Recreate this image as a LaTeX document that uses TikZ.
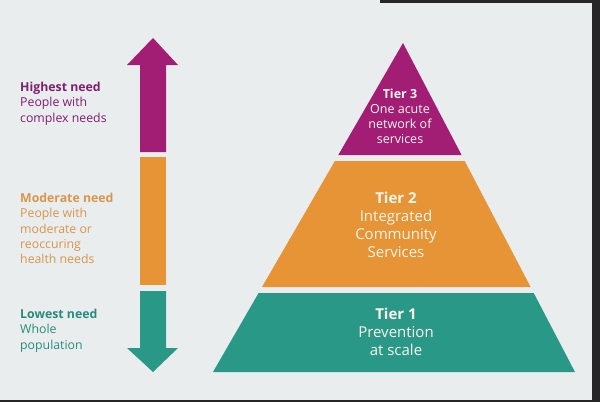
\documentclass[tikz,border=0pt]{standalone}
\usepackage{fontspec}
\setmainfont{Open Sans}
\usetikzlibrary{positioning}
\definecolor{tierpurple}{RGB}{162,30,116}
\definecolor{tierorange}{RGB}{231,148,54}
\definecolor{tierteal}{RGB}{42,152,134}
\definecolor{screenbg}{RGB}{234,237,238}
\definecolor{screenedge}{RGB}{38,38,40}
\definecolor{purpletext}{RGB}{128,30,112}
\definecolor{orangetext}{RGB}{214,150,76}
\definecolor{tealtext}{RGB}{38,140,124}
\definecolor{tierwhite}{RGB}{252,245,236}

\begin{document}
\begin{tikzpicture}[x=1pt, y=-1pt,
    needtext/.style={anchor=north west, align=left, inner sep=0pt,
        font=\fontsize{12.3}{15.3}\selectfont},
    tiertext/.style={align=center, inner sep=0pt, text=tierwhite}]
    \useasboundingbox (0,0) rectangle (600,402);

    % Screen background and frame
    \fill[screenbg] (0,0) rectangle (600,402);
    \fill[screenedge] (592,0) rectangle (600,402);
    \fill[screenedge] (380,0) rectangle (600,3);
    \fill[screenedge] (0,400) rectangle (600,402);

    % Need arrow (three segments)
    \fill[tierpurple] (153,38) -- (178,65) -- (166,65) -- (166,152)
        -- (140,152) -- (140,65) -- (127,65) -- cycle;
    \fill[tierorange] (140,157) rectangle (166,285);
    \fill[tierteal] (140,291) -- (166,291) -- (166,348) -- (178,348)
        -- (153,372) -- (127,348) -- (140,348) -- cycle;

    % Pyramid tiers
    \fill[tierpurple] (403,43) -- (461.6,155) -- (338.3,155) -- cycle;
    \fill[tierorange] (334.9,161) -- (464.7,161) -- (530.6,287) -- (262,287) -- cycle;
    \fill[tierteal] (258.6,293) -- (533.7,293) -- (575,372) -- (213,372) -- cycle;

    % Need labels
    \node[needtext, text=purpletext] (highest) at (20,82)
        {\textbf{Highest need}\\People with\\complex needs};
    \node[needtext, text=orangetext] (moderate) at (20,193)
        {\textbf{Moderate need}\\People with\\moderate or\\reoccuring\\health needs};
    \node[needtext, text=tealtext] (lowest) at (20,309)
        {\textbf{Lowest need}\\Whole\\population};

    % Tier labels
    \node[tiertext, font=\fontsize{12.5}{15}\selectfont] (tier3) at (400,116)
        {\textbf{Tier 3}\\One acute\\network of\\services};
    \node[tiertext, font=\fontsize{15}{18}\selectfont] (tier2) at (396,225)
        {\textbf{Tier 2}\\Integrated\\Community\\Services};
    \node[tiertext, font=\fontsize{15}{18}\selectfont] (tier1) at (396,332)
        {\textbf{Tier 1}\\Prevention\\at scale};
\end{tikzpicture}
\end{document}
